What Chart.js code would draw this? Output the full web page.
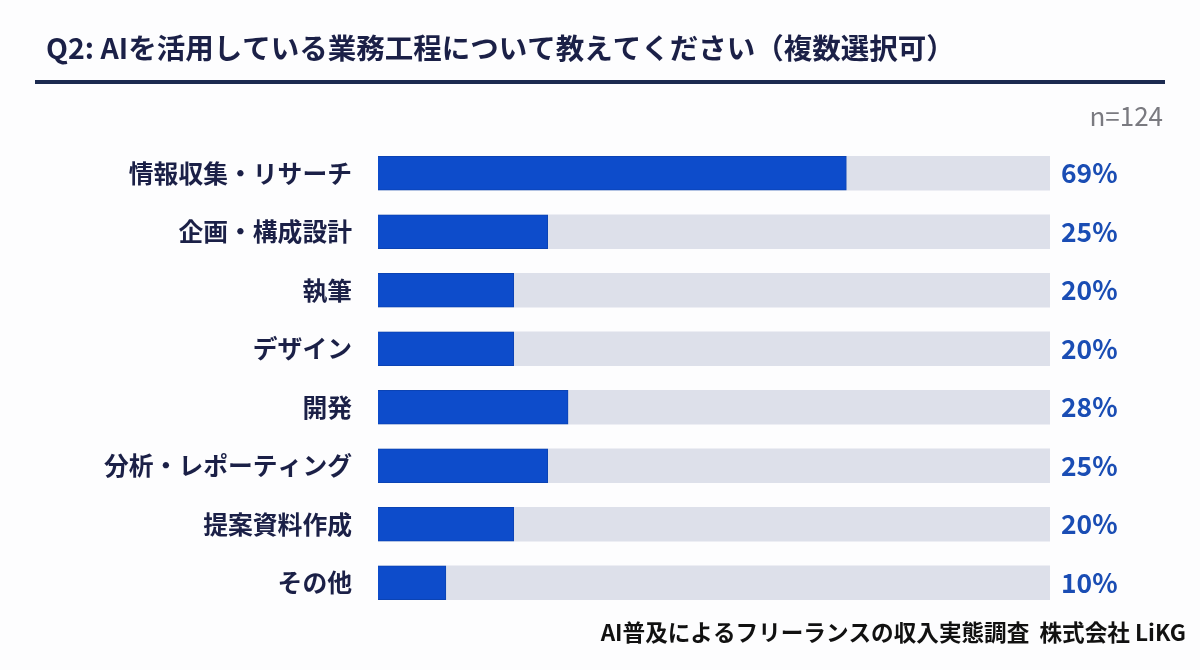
<!DOCTYPE html>
<html>
<head>
<meta charset="utf-8">
<script src="https://cdn.jsdelivr.net/npm/chart.js@4"></script>
<style>
  html, body { margin: 0; padding: 0; background: #fdfdfe; }
  #wrap { width: 1200px; height: 670px; position: relative; }
</style>
</head>
<body>
<div id="wrap"><canvas id="chart" width="1200" height="670"></canvas></div>
<script>
const categories = ['情報収集・リサーチ', '企画・構成設計', '執筆', 'デザイン', '開発', '分析・レポーティング', '提案資料作成', 'その他'];
const shares = [69, 25, 20, 20, 28, 25, 20, 10];
// grey track behind every bar runs to the end of the axis
const axisMax = 99;
const trackValues = [axisMax, axisMax, axisMax, axisMax, axisMax, axisMax, axisMax, axisMax];

const titleText = 'Q2: AIを活用している業務工程について教えてください（複数選択可）';
const sampleText = 'n=124';
const sourceText = 'AI普及によるフリーランスの収入実態調査  株式会社 LiKG';

const FONT = '"Noto Sans CJK JP", "Noto Sans", sans-serif';

// title, rule, sample size, source and the % labels
const decorPlugin = {
    id: 'decor',
    afterDraw(chart) {
        const c = chart.ctx;
        c.save();
        c.fillStyle = '#1b2047';
        c.font = 'bold 28.5px ' + FONT;
        c.textBaseline = 'middle';
        c.textAlign = 'left';
        c.fillText(titleText, 46, 48);

        c.fillStyle = '#1c2a50';
        c.fillRect(35, 80, 1130, 4);

        c.fillStyle = '#7a7a80';
        c.font = '26px ' + FONT;
        c.textAlign = 'right';
        c.fillText(sampleText, 1163, 116);

        c.fillStyle = '#111';
        c.font = 'bold 22.6px ' + FONT;
        c.fillText(sourceText, 1186, 632);

        const meta = chart.getDatasetMeta(1);
        c.fillStyle = '#1a4db4';
        c.font = 'bold 26.4px ' + FONT;
        c.textAlign = 'left';
        meta.data.forEach((bar, i) => {
            c.fillText(shares[i] + '%', 1061, bar.y);
        });
        c.restore();
    }
};

new Chart(document.getElementById('chart'), {
    type: 'bar',
    data: {
        labels: categories,
        datasets: [
            {
                data: shares,
                backgroundColor: '#0d4ccb',
                borderColor: '#0b43b4',
                borderWidth: 1,
                barThickness: 34,
                grouped: false,
                order: 1
            },
            {
                data: trackValues,
                backgroundColor: '#dde0ea',
                borderWidth: 0,
                barThickness: 34,
                grouped: false,
                order: 2
            }
        ]
    },
    options: {
        indexAxis: 'y',
        responsive: false,
        animation: false,
        layout: { padding: { left: 0, right: 150, top: 144, bottom: 58 } },
        plugins: {
            legend: { display: false },
            tooltip: { enabled: false }
        },
        scales: {
            x: {
                display: false,
                min: 0,
                max: axisMax
            },
            y: {
                grid: { display: false, drawTicks: false },
                border: { display: false },
                afterFit(scale) { scale.width = 378; },
                ticks: {
                    color: '#1b2047',
                    padding: 26,
                    font: { family: FONT, size: 24.8, weight: 'bold' }
                }
            }
        }
    },
    plugins: [decorPlugin]
});
</script>
</body>
</html>
